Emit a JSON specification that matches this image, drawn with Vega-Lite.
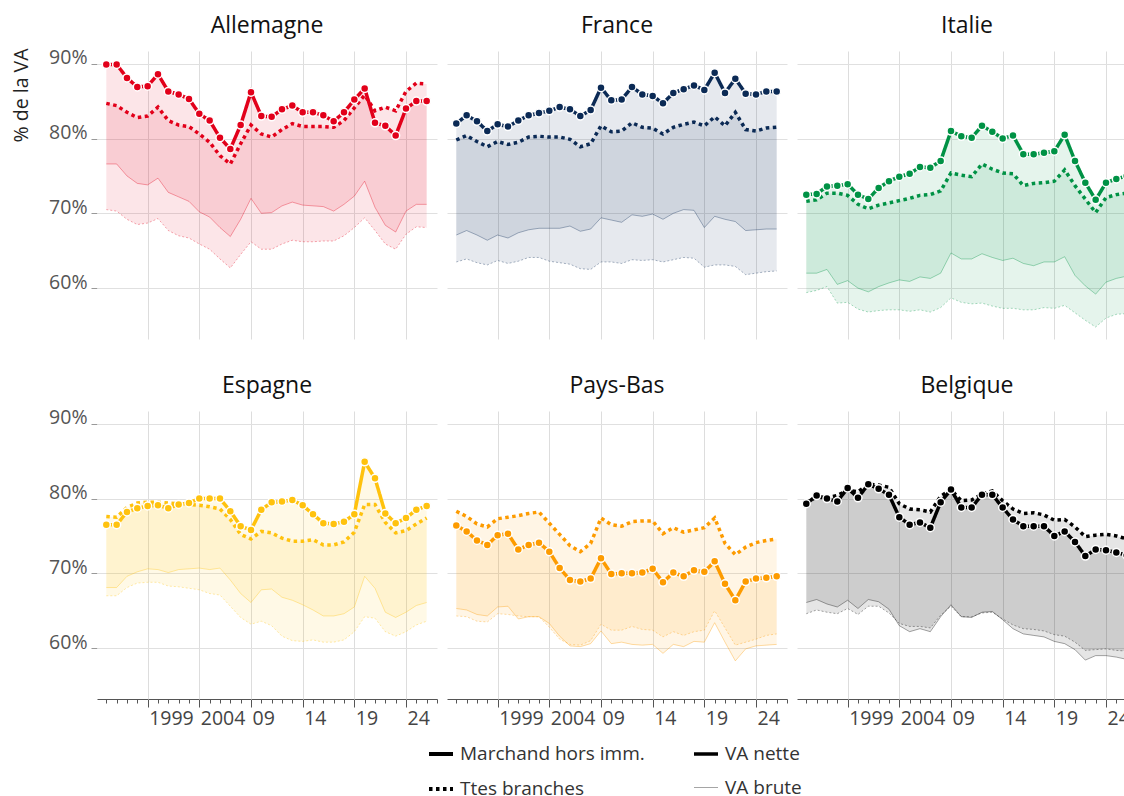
{
"$schema": "https://vega.github.io/schema/vega-lite/v6.json",
"background": "white",
"padding": {"left": 11, "top": 15, "right": 0, "bottom": 0},
"datasets": {"d": [
{"p":"Allemagne","a":1995,"mn":89.9,"tn":84.7,"mb":76.6,"tb":70.5},
{"p":"Allemagne","a":1996,"mn":89.9,"tn":84.4,"mb":76.6,"tb":70.3},
{"p":"Allemagne","a":1997,"mn":88.1,"tn":83.5,"mb":75.0,"tb":69.2},
{"p":"Allemagne","a":1998,"mn":86.9,"tn":82.8,"mb":74.0,"tb":68.5},
{"p":"Allemagne","a":1999,"mn":87.0,"tn":83.0,"mb":73.8,"tb":68.7},
{"p":"Allemagne","a":2000,"mn":88.6,"tn":84.2,"mb":74.7,"tb":69.3},
{"p":"Allemagne","a":2001,"mn":86.3,"tn":82.4,"mb":72.8,"tb":67.7},
{"p":"Allemagne","a":2002,"mn":85.9,"tn":81.8,"mb":72.2,"tb":67.0},
{"p":"Allemagne","a":2003,"mn":85.3,"tn":81.6,"mb":71.6,"tb":66.7},
{"p":"Allemagne","a":2004,"mn":83.3,"tn":80.6,"mb":70.2,"tb":65.9},
{"p":"Allemagne","a":2005,"mn":82.4,"tn":79.5,"mb":69.5,"tb":65.2},
{"p":"Allemagne","a":2006,"mn":80.1,"tn":77.7,"mb":68.1,"tb":63.9},
{"p":"Allemagne","a":2007,"mn":78.6,"tn":76.6,"mb":66.9,"tb":62.7},
{"p":"Allemagne","a":2008,"mn":81.8,"tn":79.3,"mb":69.2,"tb":64.5},
{"p":"Allemagne","a":2009,"mn":86.2,"tn":81.8,"mb":72.0,"tb":66.2},
{"p":"Allemagne","a":2010,"mn":83.0,"tn":80.6,"mb":70.0,"tb":65.2},
{"p":"Allemagne","a":2011,"mn":82.9,"tn":80.2,"mb":70.1,"tb":65.2},
{"p":"Allemagne","a":2012,"mn":83.9,"tn":81.2,"mb":71.0,"tb":65.9},
{"p":"Allemagne","a":2013,"mn":84.4,"tn":82.0,"mb":71.5,"tb":66.4},
{"p":"Allemagne","a":2014,"mn":83.5,"tn":81.6,"mb":71.1,"tb":66.2},
{"p":"Allemagne","a":2015,"mn":83.5,"tn":81.6,"mb":71.0,"tb":66.2},
{"p":"Allemagne","a":2016,"mn":83.1,"tn":81.6,"mb":70.9,"tb":66.3},
{"p":"Allemagne","a":2017,"mn":82.3,"tn":81.5,"mb":70.3,"tb":66.3},
{"p":"Allemagne","a":2018,"mn":83.5,"tn":82.4,"mb":71.2,"tb":67.0},
{"p":"Allemagne","a":2019,"mn":85.2,"tn":84.1,"mb":72.3,"tb":68.1},
{"p":"Allemagne","a":2020,"mn":86.7,"tn":85.8,"mb":74.3,"tb":69.4},
{"p":"Allemagne","a":2021,"mn":82.1,"tn":83.7,"mb":70.8,"tb":67.7},
{"p":"Allemagne","a":2022,"mn":81.7,"tn":84.2,"mb":68.4,"tb":65.9},
{"p":"Allemagne","a":2023,"mn":80.4,"tn":83.7,"mb":67.5,"tb":65.2},
{"p":"Allemagne","a":2024,"mn":84.0,"tn":86.3,"mb":70.3,"tb":67.2},
{"p":"Allemagne","a":2025,"mn":85.0,"tn":87.4,"mb":71.2,"tb":68.2},
{"p":"Allemagne","a":2026,"mn":85.0,"tn":87.3,"mb":71.2,"tb":68.1},
{"p":"France","a":1995,"mn":82.0,"tn":79.8,"mb":67.1,"tb":63.5},
{"p":"France","a":1996,"mn":83.1,"tn":80.4,"mb":67.7,"tb":63.9},
{"p":"France","a":1997,"mn":82.3,"tn":79.6,"mb":67.1,"tb":63.4},
{"p":"France","a":1998,"mn":81.0,"tn":78.9,"mb":66.4,"tb":63.1},
{"p":"France","a":1999,"mn":81.9,"tn":79.6,"mb":67.1,"tb":63.7},
{"p":"France","a":2000,"mn":81.6,"tn":79.2,"mb":66.7,"tb":63.3},
{"p":"France","a":2001,"mn":82.4,"tn":79.5,"mb":67.4,"tb":63.6},
{"p":"France","a":2002,"mn":83.1,"tn":80.2,"mb":67.8,"tb":64.1},
{"p":"France","a":2003,"mn":83.4,"tn":80.3,"mb":68.0,"tb":64.1},
{"p":"France","a":2004,"mn":83.7,"tn":80.2,"mb":68.0,"tb":63.6},
{"p":"France","a":2005,"mn":84.2,"tn":80.2,"mb":68.0,"tb":63.4},
{"p":"France","a":2006,"mn":83.9,"tn":79.9,"mb":68.3,"tb":63.2},
{"p":"France","a":2007,"mn":83.0,"tn":78.9,"mb":67.6,"tb":62.6},
{"p":"France","a":2008,"mn":83.8,"tn":79.3,"mb":67.9,"tb":62.5},
{"p":"France","a":2009,"mn":86.8,"tn":81.7,"mb":69.4,"tb":63.5},
{"p":"France","a":2010,"mn":85.1,"tn":80.9,"mb":69.1,"tb":63.5},
{"p":"France","a":2011,"mn":85.2,"tn":81.0,"mb":68.8,"tb":63.3},
{"p":"France","a":2012,"mn":86.9,"tn":82.1,"mb":69.8,"tb":63.8},
{"p":"France","a":2013,"mn":85.9,"tn":81.5,"mb":69.6,"tb":63.7},
{"p":"France","a":2014,"mn":85.7,"tn":81.4,"mb":69.9,"tb":63.8},
{"p":"France","a":2015,"mn":84.7,"tn":80.6,"mb":69.2,"tb":63.5},
{"p":"France","a":2016,"mn":86.1,"tn":81.5,"mb":70.0,"tb":63.8},
{"p":"France","a":2017,"mn":86.6,"tn":81.9,"mb":70.5,"tb":64.1},
{"p":"France","a":2018,"mn":87.1,"tn":82.2,"mb":70.4,"tb":64.0},
{"p":"France","a":2019,"mn":86.5,"tn":81.7,"mb":68.1,"tb":62.8},
{"p":"France","a":2020,"mn":88.8,"tn":82.9,"mb":69.6,"tb":63.1},
{"p":"France","a":2021,"mn":86.1,"tn":81.7,"mb":69.2,"tb":63.1},
{"p":"France","a":2022,"mn":88.0,"tn":83.5,"mb":68.9,"tb":62.9},
{"p":"France","a":2023,"mn":86.0,"tn":81.2,"mb":67.7,"tb":61.8},
{"p":"France","a":2024,"mn":85.9,"tn":81.0,"mb":67.8,"tb":62.0},
{"p":"France","a":2025,"mn":86.3,"tn":81.4,"mb":67.9,"tb":62.2},
{"p":"France","a":2026,"mn":86.3,"tn":81.5,"mb":67.9,"tb":62.3},
{"p":"Italie","a":1995,"mn":72.5,"tn":71.6,"mb":62.0,"tb":59.4},
{"p":"Italie","a":1996,"mn":72.6,"tn":71.8,"mb":62.0,"tb":59.7},
{"p":"Italie","a":1997,"mn":73.6,"tn":72.7,"mb":62.5,"tb":60.2},
{"p":"Italie","a":1998,"mn":73.7,"tn":72.7,"mb":60.5,"tb":58.0},
{"p":"Italie","a":1999,"mn":73.9,"tn":72.4,"mb":61.0,"tb":58.1},
{"p":"Italie","a":2000,"mn":72.5,"tn":71.2,"mb":60.0,"tb":57.2},
{"p":"Italie","a":2001,"mn":71.9,"tn":70.6,"mb":59.5,"tb":56.8},
{"p":"Italie","a":2002,"mn":73.4,"tn":71.1,"mb":60.2,"tb":57.0},
{"p":"Italie","a":2003,"mn":74.3,"tn":71.4,"mb":60.7,"tb":57.1},
{"p":"Italie","a":2004,"mn":74.9,"tn":71.7,"mb":61.1,"tb":57.1},
{"p":"Italie","a":2005,"mn":75.3,"tn":72.0,"mb":60.9,"tb":56.9},
{"p":"Italie","a":2006,"mn":76.2,"tn":72.4,"mb":61.5,"tb":57.1},
{"p":"Italie","a":2007,"mn":76.1,"tn":72.5,"mb":61.3,"tb":56.8},
{"p":"Italie","a":2008,"mn":77.0,"tn":73.0,"mb":62.0,"tb":57.4},
{"p":"Italie","a":2009,"mn":81.0,"tn":75.4,"mb":64.7,"tb":58.7},
{"p":"Italie","a":2010,"mn":80.3,"tn":75.1,"mb":63.9,"tb":58.1},
{"p":"Italie","a":2011,"mn":80.1,"tn":74.9,"mb":63.9,"tb":57.9},
{"p":"Italie","a":2012,"mn":81.7,"tn":76.6,"mb":64.6,"tb":58.0},
{"p":"Italie","a":2013,"mn":80.9,"tn":75.9,"mb":64.1,"tb":57.6},
{"p":"Italie","a":2014,"mn":80.0,"tn":75.4,"mb":63.7,"tb":57.3},
{"p":"Italie","a":2015,"mn":80.4,"tn":75.3,"mb":64.0,"tb":57.3},
{"p":"Italie","a":2016,"mn":77.9,"tn":73.7,"mb":63.3,"tb":57.1},
{"p":"Italie","a":2017,"mn":77.9,"tn":74.0,"mb":63.0,"tb":57.1},
{"p":"Italie","a":2018,"mn":78.1,"tn":74.1,"mb":63.5,"tb":57.4},
{"p":"Italie","a":2019,"mn":78.3,"tn":74.3,"mb":63.5,"tb":57.3},
{"p":"Italie","a":2020,"mn":80.5,"tn":75.8,"mb":64.2,"tb":57.7},
{"p":"Italie","a":2021,"mn":77.0,"tn":73.7,"mb":61.7,"tb":56.7},
{"p":"Italie","a":2022,"mn":74.1,"tn":71.9,"mb":60.3,"tb":55.7},
{"p":"Italie","a":2023,"mn":71.8,"tn":70.1,"mb":59.2,"tb":54.8},
{"p":"Italie","a":2024,"mn":74.1,"tn":72.1,"mb":60.8,"tb":56.0},
{"p":"Italie","a":2025,"mn":74.6,"tn":72.5,"mb":61.3,"tb":56.5},
{"p":"Italie","a":2026,"mn":75.0,"tn":72.7,"mb":61.6,"tb":56.6},
{"p":"Espagne","a":1995,"mn":76.5,"tn":77.6,"mb":68.1,"tb":67.0},
{"p":"Espagne","a":1996,"mn":76.5,"tn":77.5,"mb":68.1,"tb":67.0},
{"p":"Espagne","a":1997,"mn":78.2,"tn":78.8,"mb":69.6,"tb":68.1},
{"p":"Espagne","a":1998,"mn":78.7,"tn":79.4,"mb":70.2,"tb":68.7},
{"p":"Espagne","a":1999,"mn":79.0,"tn":79.5,"mb":70.6,"tb":68.8},
{"p":"Espagne","a":2000,"mn":79.1,"tn":79.5,"mb":70.5,"tb":68.8},
{"p":"Espagne","a":2001,"mn":78.7,"tn":79.4,"mb":70.1,"tb":68.3},
{"p":"Espagne","a":2002,"mn":79.2,"tn":79.3,"mb":70.5,"tb":68.2},
{"p":"Espagne","a":2003,"mn":79.4,"tn":79.2,"mb":70.6,"tb":68.0},
{"p":"Espagne","a":2004,"mn":80.0,"tn":79.1,"mb":70.7,"tb":67.8},
{"p":"Espagne","a":2005,"mn":80.0,"tn":78.9,"mb":70.5,"tb":67.3},
{"p":"Espagne","a":2006,"mn":80.0,"tn":78.6,"mb":70.7,"tb":67.1},
{"p":"Espagne","a":2007,"mn":78.3,"tn":77.2,"mb":69.1,"tb":65.6},
{"p":"Espagne","a":2008,"mn":76.3,"tn":75.2,"mb":67.3,"tb":64.1},
{"p":"Espagne","a":2009,"mn":75.8,"tn":74.6,"mb":66.1,"tb":63.2},
{"p":"Espagne","a":2010,"mn":78.5,"tn":75.6,"mb":67.8,"tb":63.6},
{"p":"Espagne","a":2011,"mn":79.5,"tn":75.4,"mb":67.9,"tb":63.0},
{"p":"Espagne","a":2012,"mn":79.6,"tn":74.7,"mb":66.8,"tb":61.6},
{"p":"Espagne","a":2013,"mn":79.8,"tn":74.3,"mb":66.4,"tb":61.0},
{"p":"Espagne","a":2014,"mn":79.1,"tn":74.3,"mb":65.8,"tb":60.9},
{"p":"Espagne","a":2015,"mn":77.9,"tn":74.5,"mb":65.1,"tb":61.1},
{"p":"Espagne","a":2016,"mn":76.7,"tn":73.8,"mb":64.3,"tb":60.8},
{"p":"Espagne","a":2017,"mn":76.6,"tn":73.8,"mb":64.3,"tb":60.8},
{"p":"Espagne","a":2018,"mn":76.9,"tn":74.2,"mb":64.6,"tb":61.1},
{"p":"Espagne","a":2019,"mn":77.9,"tn":75.5,"mb":65.5,"tb":62.2},
{"p":"Espagne","a":2020,"mn":84.9,"tn":79.2,"mb":69.6,"tb":64.2},
{"p":"Espagne","a":2021,"mn":82.7,"tn":79.2,"mb":68.0,"tb":64.0},
{"p":"Espagne","a":2022,"mn":78.0,"tn":76.8,"mb":64.8,"tb":62.2},
{"p":"Espagne","a":2023,"mn":76.7,"tn":75.4,"mb":64.1,"tb":61.6},
{"p":"Espagne","a":2024,"mn":77.4,"tn":75.7,"mb":64.8,"tb":62.2},
{"p":"Espagne","a":2025,"mn":78.5,"tn":76.6,"mb":65.7,"tb":63.1},
{"p":"Espagne","a":2026,"mn":79.0,"tn":77.4,"mb":66.1,"tb":63.6},
{"p":"Pays-Bas","a":1995,"mn":76.4,"tn":78.3,"mb":65.3,"tb":64.3},
{"p":"Pays-Bas","a":1996,"mn":75.6,"tn":77.6,"mb":65.1,"tb":64.2},
{"p":"Pays-Bas","a":1997,"mn":74.4,"tn":76.6,"mb":64.5,"tb":63.6},
{"p":"Pays-Bas","a":1998,"mn":73.8,"tn":76.2,"mb":64.3,"tb":63.5},
{"p":"Pays-Bas","a":1999,"mn":75.1,"tn":77.3,"mb":65.5,"tb":64.6},
{"p":"Pays-Bas","a":2000,"mn":75.3,"tn":77.5,"mb":65.6,"tb":64.5},
{"p":"Pays-Bas","a":2001,"mn":73.2,"tn":77.7,"mb":63.9,"tb":64.3},
{"p":"Pays-Bas","a":2002,"mn":73.8,"tn":78.0,"mb":64.2,"tb":64.2},
{"p":"Pays-Bas","a":2003,"mn":74.1,"tn":78.2,"mb":64.2,"tb":64.2},
{"p":"Pays-Bas","a":2004,"mn":72.9,"tn":76.7,"mb":63.3,"tb":62.8},
{"p":"Pays-Bas","a":2005,"mn":70.7,"tn":75.2,"mb":61.6,"tb":61.2},
{"p":"Pays-Bas","a":2006,"mn":69.1,"tn":73.7,"mb":60.3,"tb":60.5},
{"p":"Pays-Bas","a":2007,"mn":68.9,"tn":72.9,"mb":60.2,"tb":60.4},
{"p":"Pays-Bas","a":2008,"mn":69.3,"tn":74.0,"mb":60.6,"tb":61.0},
{"p":"Pays-Bas","a":2009,"mn":72.0,"tn":77.4,"mb":62.3,"tb":63.2},
{"p":"Pays-Bas","a":2010,"mn":69.9,"tn":76.5,"mb":60.6,"tb":62.4},
{"p":"Pays-Bas","a":2011,"mn":70.0,"tn":76.3,"mb":60.8,"tb":62.4},
{"p":"Pays-Bas","a":2012,"mn":70.0,"tn":76.9,"mb":60.5,"tb":62.9},
{"p":"Pays-Bas","a":2013,"mn":70.1,"tn":77.0,"mb":60.4,"tb":62.5},
{"p":"Pays-Bas","a":2014,"mn":70.6,"tn":77.0,"mb":60.5,"tb":62.4},
{"p":"Pays-Bas","a":2015,"mn":68.8,"tn":75.3,"mb":59.3,"tb":61.5},
{"p":"Pays-Bas","a":2016,"mn":70.1,"tn":76.1,"mb":60.5,"tb":62.2},
{"p":"Pays-Bas","a":2017,"mn":69.6,"tn":75.5,"mb":60.2,"tb":61.7},
{"p":"Pays-Bas","a":2018,"mn":70.4,"tn":75.8,"mb":60.9,"tb":62.2},
{"p":"Pays-Bas","a":2019,"mn":70.2,"tn":76.1,"mb":60.8,"tb":62.4},
{"p":"Pays-Bas","a":2020,"mn":71.6,"tn":77.4,"mb":63.4,"tb":65.0},
{"p":"Pays-Bas","a":2021,"mn":68.6,"tn":74.0,"mb":60.8,"tb":62.7},
{"p":"Pays-Bas","a":2022,"mn":66.4,"tn":72.5,"mb":58.3,"tb":60.4},
{"p":"Pays-Bas","a":2023,"mn":68.9,"tn":73.5,"mb":59.9,"tb":60.8},
{"p":"Pays-Bas","a":2024,"mn":69.3,"tn":74.1,"mb":60.3,"tb":61.2},
{"p":"Pays-Bas","a":2025,"mn":69.4,"tn":74.4,"mb":60.4,"tb":61.7},
{"p":"Pays-Bas","a":2026,"mn":69.6,"tn":74.6,"mb":60.5,"tb":61.9},
{"p":"Belgique","a":1995,"mn":79.3,"tn":79.5,"mb":66.1,"tb":64.6},
{"p":"Belgique","a":1996,"mn":80.4,"tn":80.2,"mb":66.5,"tb":65.1},
{"p":"Belgique","a":1997,"mn":80.0,"tn":80.1,"mb":65.9,"tb":64.8},
{"p":"Belgique","a":1998,"mn":79.6,"tn":80.4,"mb":65.5,"tb":64.6},
{"p":"Belgique","a":1999,"mn":81.4,"tn":81.1,"mb":66.4,"tb":65.3},
{"p":"Belgique","a":2000,"mn":80.1,"tn":80.9,"mb":65.3,"tb":64.5},
{"p":"Belgique","a":2001,"mn":81.9,"tn":81.9,"mb":66.5,"tb":65.6},
{"p":"Belgique","a":2002,"mn":81.3,"tn":81.8,"mb":66.2,"tb":65.6},
{"p":"Belgique","a":2003,"mn":80.5,"tn":81.5,"mb":65.2,"tb":64.7},
{"p":"Belgique","a":2004,"mn":77.5,"tn":79.3,"mb":63.0,"tb":63.3},
{"p":"Belgique","a":2005,"mn":76.5,"tn":78.6,"mb":62.2,"tb":62.9},
{"p":"Belgique","a":2006,"mn":76.8,"tn":78.5,"mb":62.6,"tb":62.9},
{"p":"Belgique","a":2007,"mn":76.1,"tn":78.2,"mb":62.2,"tb":62.7},
{"p":"Belgique","a":2008,"mn":79.5,"tn":80.3,"mb":64.2,"tb":64.4},
{"p":"Belgique","a":2009,"mn":81.2,"tn":81.2,"mb":65.8,"tb":65.6},
{"p":"Belgique","a":2010,"mn":78.8,"tn":79.7,"mb":64.2,"tb":64.2},
{"p":"Belgique","a":2011,"mn":78.8,"tn":79.8,"mb":64.1,"tb":64.2},
{"p":"Belgique","a":2012,"mn":80.5,"tn":80.6,"mb":64.8,"tb":64.7},
{"p":"Belgique","a":2013,"mn":80.5,"tn":81.0,"mb":64.9,"tb":64.8},
{"p":"Belgique","a":2014,"mn":78.8,"tn":79.7,"mb":63.8,"tb":63.9},
{"p":"Belgique","a":2015,"mn":77.2,"tn":78.6,"mb":62.6,"tb":63.1},
{"p":"Belgique","a":2016,"mn":76.3,"tn":78.0,"mb":61.9,"tb":62.6},
{"p":"Belgique","a":2017,"mn":76.3,"tn":78.1,"mb":61.7,"tb":62.5},
{"p":"Belgique","a":2018,"mn":76.3,"tn":77.8,"mb":61.5,"tb":62.3},
{"p":"Belgique","a":2019,"mn":75.0,"tn":77.1,"mb":60.9,"tb":61.8},
{"p":"Belgique","a":2020,"mn":75.6,"tn":77.2,"mb":60.6,"tb":61.6},
{"p":"Belgique","a":2021,"mn":74.2,"tn":76.2,"mb":59.8,"tb":60.8},
{"p":"Belgique","a":2022,"mn":72.3,"tn":74.9,"mb":58.4,"tb":59.7},
{"p":"Belgique","a":2023,"mn":73.2,"tn":75.1,"mb":59.0,"tb":59.8},
{"p":"Belgique","a":2024,"mn":73.1,"tn":75.2,"mb":59.0,"tb":59.9},
{"p":"Belgique","a":2025,"mn":72.8,"tn":75.0,"mb":58.8,"tb":59.7},
{"p":"Belgique","a":2026,"mn":72.4,"tn":74.6,"mb":58.5,"tb":59.6}
]},
"data": {"name": "d"},
"config": {
  "font": "Open Sans",
  "view": {"stroke": null},
  "axis": {"titleFontWeight": "normal", "labelFont": "Open Sans", "titleFont": "Open Sans"},
  "legend": {"labelFont": "Open Sans"},
  "header": {"labelFontSize": 23, "labelColor": "#111", "labelPadding": 13, "labelFont": "Open Sans"}
},
"spacing": 36,
"resolve": {"scale": {"color": "shared", "strokeDash": "shared", "strokeWidth": "shared", "opacity": "shared"}},
"vconcat": [
{
 "transform": [{"filter": "indexof(['Allemagne','France','Italie'], datum.p) >= 0"}],
 "facet": {"field": "p", "type": "nominal", "sort": ["Allemagne","France","Italie"], "title": null},
 "columns": 3,
 "spacing": {"row": 20, "column": 10},
 "spec": {
  "width": 340, "height": 288,
  "encoding": {
    "x": {"field": "a", "type": "quantitative", "scale": {"domain": [1994.1, 2027], "nice": false, "zero": false},
      "axis": {"title": null, "labels": false, "ticks": false, "domain": false,
        "values": [1999,2004,2009,2014,2019,2024], "gridColor": "#dddddd"}},
    "color": {"field": "p", "type": "nominal", "legend": null,
      "scale": {"domain": ["Allemagne","France","Italie","Espagne","Pays-Bas","Belgique"],
                "range": ["#e2001a","#0b2a55","#009245","#ffc20e","#fd9b00","#000000"]}}
  },
  "layer": [
    {"mark": {"type": "area", "opacity": 0.1},
     "encoding": {
       "y": {"field": "tn", "type": "quantitative", "scale": {"domain": [53.2, 91.7], "nice": false, "zero": false},
         "axis": {"title": "% de la VA", "titleFontSize": 19.5, "titleColor": "#222", "titleAnchor": null, "titleY": -3, "titleAlign": "right", "titleAngle": 270, "titleBaseline": "bottom", "titlePadding": 17,
           "values": [60,70,80,90], "labelExpr": "datum.value + '%'", "labelFontSize": 19.5, "labelColor": "#555",
           "labelBaseline": "alphabetic", "labelPadding": 4, "domain": false, "tickSize": 6, "tickColor": "#999", "gridColor": "#e0e0e0"}},
       "y2": {"field": "tb"}}},
    {"mark": {"type": "area", "opacity": 0.1},
     "encoding": {"y": {"field": "mn", "type": "quantitative"}, "y2": {"field": "mb"}}},
    {"mark": {"type": "line", "strokeDash": [2, 2]},
     "encoding": {"y": {"field": "tb", "type": "quantitative"},
       "strokeWidth": {"datum": "VA brute", "type": "ordinal", "scale": {"domain": ["VA nette","VA brute"], "range": [3.5, 1]},
         "legend": {"title": null, "orient": "none", "legendX": 595, "legendY": 689, "symbolType": "stroke", "symbolStrokeColor": "black", "symbolSize": 576, "labelFontSize": 19, "labelColor": "#333", "labelLimit": 400, "rowPadding": 11, "labelOffset": 5}},
       "opacity": {"datum": "VA brute", "type": "ordinal", "scale": {"domain": ["VA nette","VA brute"], "range": [1, 0.35]},
         "legend": {"title": null, "orient": "none", "legendX": 595, "legendY": 689, "symbolType": "stroke", "symbolStrokeColor": "black", "symbolSize": 576, "labelFontSize": 19, "labelColor": "#333", "labelLimit": 400, "rowPadding": 11, "labelOffset": 5}}}},
    {"mark": {"type": "line"},
     "encoding": {"y": {"field": "mb", "type": "quantitative"},
       "strokeWidth": {"datum": "VA brute", "type": "ordinal"},
       "opacity": {"datum": "VA brute", "type": "ordinal"}}},
    {"mark": {"type": "line"},
     "encoding": {"y": {"field": "tn", "type": "quantitative"},
       "strokeWidth": {"datum": "VA nette", "type": "ordinal"},
       "opacity": {"datum": "VA nette", "type": "ordinal"},
       "strokeDash": {"datum": "Ttes branches", "type": "nominal", "scale": {"domain": ["Marchand hors imm.","Ttes branches"], "range": [[1,0],[3.5,3.5]]},
         "legend": {"title": null, "orient": "none", "legendX": 330, "legendY": 689, "symbolType": "stroke", "symbolStrokeColor": "black", "symbolStrokeWidth": 4, "symbolSize": 576, "labelFontSize": 19, "labelColor": "#333", "labelLimit": 400, "rowPadding": 11, "labelOffset": 5}}}},
    {"mark": {"type": "line"},
     "encoding": {"y": {"field": "mn", "type": "quantitative"},
       "strokeWidth": {"datum": "VA nette", "type": "ordinal"},
       "opacity": {"datum": "VA nette", "type": "ordinal"},
       "strokeDash": {"datum": "Marchand hors imm.", "type": "nominal"}}},
    {"mark": {"type": "circle", "size": 64, "opacity": 1, "stroke": "white", "strokeWidth": 1.5},
     "encoding": {"y": {"field": "mn", "type": "quantitative"}}}
  ]
 }
},
{
 "transform": [{"filter": "indexof(['Espagne','Pays-Bas','Belgique'], datum.p) >= 0"}],
 "facet": {"field": "p", "type": "nominal", "sort": ["Espagne","Pays-Bas","Belgique"], "title": null},
 "columns": 3,
 "spacing": {"row": 20, "column": 10},
 "spec": {
  "width": 340, "height": 288,
  "encoding": {
    "x": {"field": "a", "type": "quantitative", "scale": {"domain": [1994.1, 2027], "nice": false, "zero": false},
      "axis": {"title": null,
        "values": [1994,1995,1996,1997,1998,1999,2000,2001,2002,2003,2004,2005,2006,2007,2008,2009,2010,2011,2012,2013,2014,2015,2016,2017,2018,2019,2020,2021,2022,2023,2024,2025,2026,2027],
        "labelExpr": "datum.value % 5 == 4 ? (datum.value < 2005 ? datum.value + '' : slice(datum.value + '', 2)) : ''",
        "labelOverlap": false, "labelBound": false, "labelFlush": false, "labelAlign": "left", "labelOffset": 1,
        "labelFontSize": 19.5, "labelColor": "#444", "labelPadding": 2,
        "gridColor": "#dddddd",
        "gridOpacity": {"condition": {"test": "datum.value % 5 == 4", "value": 1}, "value": 0},
        "tickSize": {"condition": {"test": "datum.value % 5 == 4", "value": 8}, "value": 4},
        "tickColor": "#555", "domainColor": "#555"}},
    "color": {"field": "p", "type": "nominal", "legend": null}
  },
  "layer": [
    {"mark": {"type": "area", "opacity": 0.1},
     "encoding": {
       "y": {"field": "tn", "type": "quantitative", "scale": {"domain": [53.2, 91.7], "nice": false, "zero": false},
         "axis": {"title": " ", "titleFontSize": 19.5, "titlePadding": 17,
           "values": [60,70,80,90], "labelExpr": "datum.value + '%'", "labelFontSize": 19.5, "labelColor": "#555",
           "labelBaseline": "alphabetic", "labelPadding": 4, "domain": false, "tickSize": 6, "tickColor": "#999", "gridColor": "#e0e0e0"}},
       "y2": {"field": "tb"}}},
    {"mark": {"type": "area", "opacity": 0.1},
     "encoding": {"y": {"field": "mn", "type": "quantitative"}, "y2": {"field": "mb"}}},
    {"mark": {"type": "line", "strokeDash": [2, 2]},
     "encoding": {"y": {"field": "tb", "type": "quantitative"},
       "strokeWidth": {"datum": "VA brute", "type": "ordinal", "scale": {"domain": ["VA nette","VA brute"], "range": [3.5, 1]},
         "legend": {"title": null, "orient": "none", "legendX": 595, "legendY": 689, "symbolType": "stroke", "symbolStrokeColor": "black", "symbolSize": 576, "labelFontSize": 19, "labelColor": "#333", "labelLimit": 400, "rowPadding": 11, "labelOffset": 5}},
       "opacity": {"datum": "VA brute", "type": "ordinal", "scale": {"domain": ["VA nette","VA brute"], "range": [1, 0.35]},
         "legend": {"title": null, "orient": "none", "legendX": 595, "legendY": 689, "symbolType": "stroke", "symbolStrokeColor": "black", "symbolSize": 576, "labelFontSize": 19, "labelColor": "#333", "labelLimit": 400, "rowPadding": 11, "labelOffset": 5}}}},
    {"mark": {"type": "line"},
     "encoding": {"y": {"field": "mb", "type": "quantitative"},
       "strokeWidth": {"datum": "VA brute", "type": "ordinal"},
       "opacity": {"datum": "VA brute", "type": "ordinal"}}},
    {"mark": {"type": "line"},
     "encoding": {"y": {"field": "tn", "type": "quantitative"},
       "strokeWidth": {"datum": "VA nette", "type": "ordinal"},
       "opacity": {"datum": "VA nette", "type": "ordinal"},
       "strokeDash": {"datum": "Ttes branches", "type": "nominal", "scale": {"domain": ["Marchand hors imm.","Ttes branches"], "range": [[1,0],[3.5,3.5]]},
         "legend": {"title": null, "orient": "none", "legendX": 330, "legendY": 689, "symbolType": "stroke", "symbolStrokeColor": "black", "symbolStrokeWidth": 4, "symbolSize": 576, "labelFontSize": 19, "labelColor": "#333", "labelLimit": 400, "rowPadding": 11, "labelOffset": 5}}}},
    {"mark": {"type": "line"},
     "encoding": {"y": {"field": "mn", "type": "quantitative"},
       "strokeWidth": {"datum": "VA nette", "type": "ordinal"},
       "opacity": {"datum": "VA nette", "type": "ordinal"},
       "strokeDash": {"datum": "Marchand hors imm.", "type": "nominal"}}},
    {"mark": {"type": "circle", "size": 64, "opacity": 1, "stroke": "white", "strokeWidth": 1.5},
     "encoding": {"y": {"field": "mn", "type": "quantitative"}}}
  ]
 }
}
]
}
